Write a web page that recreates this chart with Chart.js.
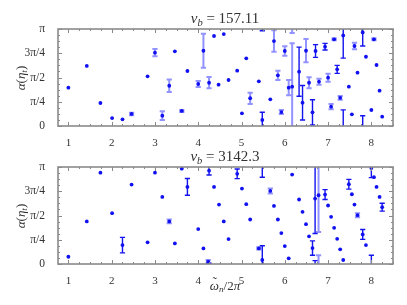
<!DOCTYPE html>
<html><head><meta charset="utf-8">
<script src="https://cdn.jsdelivr.net/npm/chart.js@4"></script>
<style>
html,body{margin:0;padding:0;background:#fff;width:407px;height:305px;overflow:hidden;}
#wrap{position:relative;width:407px;height:305px;}
canvas{position:absolute;left:0;}
.t{position:absolute;font-family:'Liberation Serif','DejaVu Serif',serif;color:#333;white-space:nowrap;line-height:1;}
.i{font-style:italic;}
sub{font-size:70%;vertical-align:-0.25em;line-height:0;}
.tl{position:relative;display:inline-block;}
.tl b{position:absolute;left:0.2em;top:-0.3em;font-weight:normal;font-style:normal;}
</style></head><body>
<div id="wrap">
<canvas id="c2" width="407" height="165" style="top:140px;width:407px;height:165px"></canvas>
<canvas id="c1" width="407" height="150" style="top:0;width:407px;height:150px"></canvas>
<div class="t" style="left:225px;top:11px;font-size:15px;transform:translateX(-50%)"><span class="i">v</span><sub class="i">b</sub> = 157.11</div>
<div class="t" style="left:225px;top:149px;font-size:15px;transform:translateX(-50%)"><span class="i">v</span><sub class="i">b</sub> = 3142.3</div>
<div class="t" style="left:20px;top:78px;font-size:13px;transform:translate(-50%,-50%) rotate(-90deg)"><span class="i">α</span>(<span class="i">η</span><sub class="i">t</sub>)</div>
<div class="t" style="left:20px;top:216px;font-size:13px;transform:translate(-50%,-50%) rotate(-90deg)"><span class="i">α</span>(<span class="i">η</span><sub class="i">t</sub>)</div>
<div class="t" style="left:225px;top:279px;font-size:13px;transform:translateX(-50%)"><span class="tl i">ω<b>˜</b></span><sub class="i">n</sub>/2<span class="i">π</span></div>
</div>
<script>
// ---- data (y in units of pi) ----
const xTicks = [1,2,3,4,5,6,7,8];
const yTicks = [0,0.25,0.5,0.75,1];
const yTickLabels = ['0','π/4','π/2','3π/4','π'];

const topX    = [1.00,1.425,1.74,2.01,2.25,2.46,2.83,3.00,3.17,3.33,3.46,3.62,3.75,4.00,4.12,4.25,4.365,4.47,4.59,4.70,4.90,5.01,5.11,5.20,5.40,5.48,5.665,5.75,5.84,5.92,6.00,6.09,6.17,6.33,6.41,6.49,6.56,6.64,6.71,6.79,6.93,7.00,7.07,7.14,7.21,7.28,7.35,7.48,7.55,7.61,7.68,7.80,7.875,8.00,8.06,8.12,8.19,8.25];
const topY    = [0.395,0.619,0.237,0.082,0.069,0.124,0.512,0.756,0.106,0.415,0.770,0.155,0.567,0.433,0.776,0.446,0.928,0.426,0.948,0.474,0.570,0.131,0.698,0.286,0.461,0.062,0.275,0.876,0.522,0.144,0.773,0.395,0.405,0.560,0.240,0.776,0.446,0.141,0.773,0.457,0.818,0.498,0.199,0.894,0.584,0.290,0.933,0.405,0.120,0.825,0.550,0.965,0.714,0.165,0.894,0.629,0.364,0.096];
const topErr  = [0,0,0,0,0,0.012,0,0.038,0.045,0.065,0,0.01,0,0.031,0.175,0.058,0,0,0,0,0,0,0,0.058,0,0.08,0,0.11,0.048,0.02,0.048,0.078,0.447,0.253,0.178,0.12,0.057,0.13,0.066,0.031,0.034,0.041,0.027,0.01,0.041,0.02,0.233,0,0,0.034,0,0.14,0,0,0.01,0,0,0];
const topKind = [0,0,0,0,0,1,0,1,1,1,0,1,0,1,1,1,0,0,0,0,0,0,0,1,0,2,0,1,1,1,1,1,1,2,2,1,1,2,2,1,2,1,1,1,2,1,2,0,0,1,0,2,0,0,1,0,0,0];

const botX    = [1.00,1.425,1.74,2.01,2.25,2.46,2.83,3.00,3.17,3.33,3.46,3.62,3.75,4.00,4.12,4.23,4.25,4.365,4.48,4.59,4.70,4.90,5.01,5.11,5.20,5.40,5.48,5.665,5.75,5.84,5.92,6.00,6.09,6.17,6.33,6.41,6.49,6.56,6.64,6.70,6.78,6.93,7.00,7.07,7.14,7.21,7.28,7.35,7.48,7.55,7.61,7.68,7.80,7.875,8.00,8.06,8.12,8.19,8.25];
const botY    = [0.075,0.439,0.942,0.524,0.195,0.819,0.223,0.942,0.692,0.439,0.212,0.983,0.795,0.360,0.161,0.025,0.962,0.795,0.613,0.439,0.257,0.930,0.778,0.617,0.459,0.161,0.041,0.753,0.599,0.459,0.319,0.185,0.058,0.922,0.665,0.538,0.411,0.285,0.164,0.675,0.709,0.716,0.603,0.486,0.373,0.260,0.151,0.041,0.822,0.719,0.613,0.503,0.305,0.195,0.990,0.895,0.795,0.692,0.586];
const botErr  = [0,0,0,0,0.08,0,0,0,0,0.02,0,0,0.086,0,0,0.015,0.045,0,0,0,0,0.05,0,0,0,0.012,0.147,0.025,0,0,0,0,0,0,0,0,0,0,0.074,0.36,0.38,0.051,0,0,0,0,0,0,0.05,0,0,0.02,0.051,0,0.1,0,0,0,0.041];
const botKind = [0,0,0,0,2,0,0,0,0,1,0,0,2,0,0,1,2,0,0,0,0,2,0,0,0,1,2,1,0,0,0,0,0,0,0,0,0,0,2,2,1,2,0,0,0,0,0,0,2,0,0,1,2,0,2,0,0,0,2];

const X_MIN = 0.76, X_MAX = 8.5;
const MARK = '#1010f0';
const LIGHT = 'rgba(40,40,255,0.5)';
const DARK = '#1414ee';
const FRAME = '#8a8a8a';

const errPlugin = {
  id:'err',
  beforeDatasetsDraw(chart, args, opts){
    const {ctx} = chart, xs = chart.scales.x, ys = chart.scales.y;
    const X = opts.x, Y = opts.y, E = opts.e, K = opts.k;
    ctx.save();
    for (let i=0;i<X.length;i++){
      if (!E[i]) continue;
      const px = xs.getPixelForValue(X[i]);
      const lo = Y[i]-E[i], hi = Y[i]+E[i];
      const segs = [[Math.max(lo,0), Math.min(hi,1)]];
      if (lo<0) segs.push([1+lo,1]);
      if (hi>1) segs.push([0,hi-1]);
      const caps = [lo>=0?lo:1+lo, hi<=1?hi:hi-1];
      ctx.strokeStyle = K[i]===1?LIGHT:DARK;
      ctx.lineWidth = K[i]===1?2:1.4;
      ctx.beginPath();
      for (const s of segs){ ctx.moveTo(px, ys.getPixelForValue(s[0])); ctx.lineTo(px, ys.getPixelForValue(s[1])); }
      for (const c of caps){ const py = ys.getPixelForValue(c); ctx.moveTo(px-2.6,py); ctx.lineTo(px+2.6,py); }
      ctx.stroke();
    }
    ctx.restore();
  }
};

const framePlugin = {
  id:'frame',
  afterDatasetsDraw(chart){
    const {ctx, chartArea:a} = chart, xs = chart.scales.x, ys = chart.scales.y;
    ctx.save();
    ctx.strokeStyle = FRAME; ctx.lineWidth = 1;
    ctx.beginPath();
    for (let v=0.75; v<=8.5+1e-9; v+=0.25){
      if (v<X_MIN) continue;
      const px = Math.round(xs.getPixelForValue(v))+0.5;
      const L = Math.abs(v-Math.round(v))<1e-6?4:2;
      ctx.moveTo(px,a.bottom); ctx.lineTo(px,a.bottom-L);
      ctx.moveTo(px,a.top); ctx.lineTo(px,a.top+L);
    }
    for (let k=0;k<=16;k++){
      const v=k/16;
      const py = Math.round(ys.getPixelForValue(v))+0.5;
      const L = k%4===0?4:2;
      ctx.moveTo(a.left,py); ctx.lineTo(a.left+L,py);
      ctx.moveTo(a.right,py); ctx.lineTo(a.right-L,py);
    }
    ctx.stroke();
    ctx.lineWidth = 1.6;
    ctx.strokeRect(a.left, a.top, a.right-a.left, a.bottom-a.top);
    ctx.restore();
  }
};

function makeChart(id, X, Y, E, K, padTop, xHeight){
  const pts = X.map((x,i)=>({x:x,y:Y[i]}));
  return new Chart(document.getElementById(id), {
    type:'scatter',
    data:{datasets:[{data:pts, pointRadius:1.9, pointHoverRadius:1.9, pointBackgroundColor:MARK, pointBorderWidth:0, pointStyle:'circle'}]},
    options:{
      responsive:false, animation:false, devicePixelRatio:1,
      layout:{padding:{top:padTop,right:14,left:0,bottom:0}},
      plugins:{legend:{display:false}, tooltip:{enabled:false}, err:{x:X,y:Y,e:E,k:K}},
      scales:{
        x:{type:'linear', min:X_MIN, max:X_MAX,
           afterBuildTicks(s){ s.ticks = xTicks.map(v=>({value:v})); },
           afterFit(s){ s.height = xHeight; },
           grid:{display:false}, border:{display:false},
           ticks:{color:'#333', font:{family:"'Liberation Serif', serif", size:11}, padding:3, maxRotation:0, callback:(v)=>String(v)}},
        y:{type:'linear', min:0, max:1,
           afterBuildTicks(s){ s.ticks = yTicks.map(v=>({value:v})); },
           afterFit(s){ s.width = 58; },
           grid:{display:false}, border:{display:false},
           ticks:{color:'#333', font:{family:"'Liberation Serif', serif", size:11.5}, padding:5,
                  callback:(v,i)=>yTickLabels[i]}}
      }
    },
    plugins:[errPlugin, framePlugin]
  });
}
makeChart('c1', topX, topY, topErr, topKind, 29, 24);
makeChart('c2', botX, botY, botErr, botKind, 27, 41);
</script>
</body></html>
